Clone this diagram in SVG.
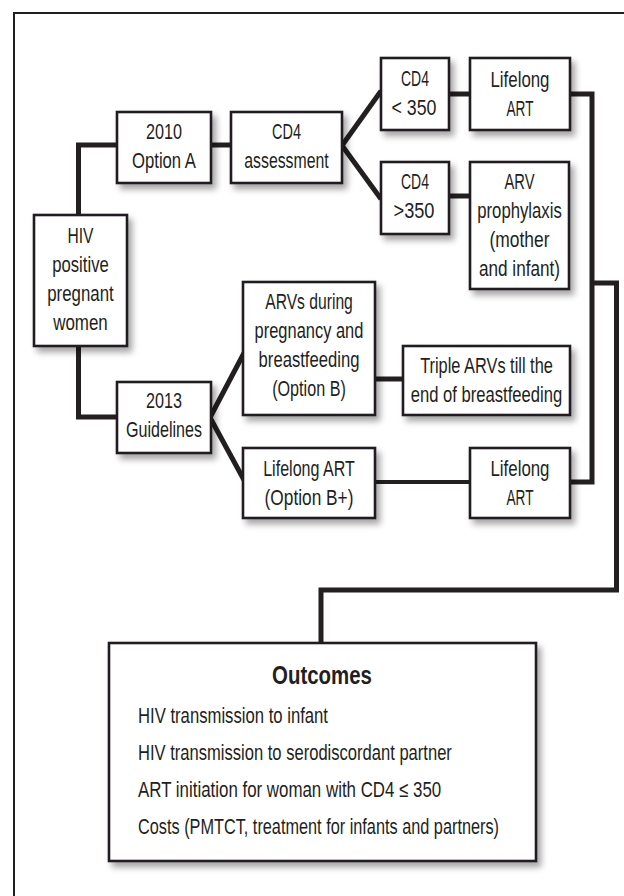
<svg xmlns="http://www.w3.org/2000/svg" width="624" height="896" viewBox="0 0 624 896">
<defs>
<filter id="sh" x="-20%" y="-20%" width="150%" height="150%">
<feDropShadow dx="4" dy="5" stdDeviation="3" flood-color="#000" flood-opacity="0.35"/>
</filter>
<style>
.box{fill:#fff;stroke:#231f20;stroke-width:2.6;filter:url(#sh)}
.t{font-family:"Liberation Sans Narrow","Liberation Sans",Arial,sans-serif;font-size:21.5px;fill:#231f20;text-anchor:middle}
.o{font-family:"Liberation Sans Narrow","Liberation Sans",Arial,sans-serif;font-size:22px;fill:#231f20}
.ob{font-family:"Liberation Sans Narrow","Liberation Sans",Arial,sans-serif;font-size:26px;font-weight:bold;fill:#231f20;text-anchor:middle}
.c{fill:none;stroke:#231f20;stroke-width:5;stroke-linejoin:miter;stroke-linecap:butt}
.c2{fill:none;stroke:#231f20;stroke-width:4.2}
</style>
</defs>
<rect width="624" height="896" fill="#fff"/>
<rect x="14" y="13" width="640" height="920" fill="none" stroke="#231f20" stroke-width="2"/>

<g id="connectors">
<path class="c" d="M78.5,216 V145 H118"/>
<path class="c" d="M78.5,345 V417 H118"/>
<path class="c" d="M210,145 H232"/>
<path class="c" d="M342,145.5 L381,91"/>
<path class="c" d="M342,145.5 L381,199"/>
<path class="c" d="M448,94 H471"/>
<path class="c" d="M448,196 H471"/>
<path class="c" d="M569,94 H592 V482 H569"/>
<path class="c" d="M592,283 H616.5 V590 H321 V644"/>
<path class="c" d="M210,417.5 L244,353"/>
<path class="c" d="M210,417.5 L244,480"/>
<path class="c" d="M374,379 H404"/>
<path class="c2" d="M374,482 H471"/>
</g>

<g id="hiv">
<rect class="box" x="34" y="215" width="93" height="131"/>
<text class="t" x="80.5" y="243" textLength="26" lengthAdjust="spacingAndGlyphs">HIV</text>
<text class="t" x="80.5" y="272" textLength="56.5" lengthAdjust="spacingAndGlyphs">positive</text>
<text class="t" x="80.5" y="301" textLength="66.5" lengthAdjust="spacingAndGlyphs">pregnant</text>
<text class="t" x="80.5" y="330" textLength="54.6" lengthAdjust="spacingAndGlyphs">women</text>
</g>

<g id="opt2010">
<rect class="box" x="117" y="112" width="94" height="71"/>
<text class="t" x="164" y="139" textLength="36" lengthAdjust="spacingAndGlyphs">2010</text>
<text class="t" x="164" y="168" textLength="64" lengthAdjust="spacingAndGlyphs">Option A</text>
</g>

<g id="cd4assess">
<rect class="box" x="231" y="112" width="111" height="71"/>
<text class="t" x="286.5" y="139" textLength="29" lengthAdjust="spacingAndGlyphs">CD4</text>
<text class="t" x="286.5" y="168" textLength="84.5" lengthAdjust="spacingAndGlyphs">assessment</text>
</g>

<g id="cd4lt">
<rect class="box" x="381" y="58" width="68" height="72"/>
<text class="t" x="415" y="86" textLength="28" lengthAdjust="spacingAndGlyphs">CD4</text>
<text class="t" x="414" y="115" textLength="45" lengthAdjust="spacingAndGlyphs">&lt; 350</text>
</g>

<g id="lifelong1">
<rect class="box" x="470" y="58" width="100" height="72"/>
<text class="t" x="520" y="87" textLength="59" lengthAdjust="spacingAndGlyphs">Lifelong</text>
<text class="t" x="520" y="116" textLength="27" lengthAdjust="spacingAndGlyphs">ART</text>
</g>

<g id="cd4gt">
<rect class="box" x="381" y="162" width="68" height="72"/>
<text class="t" x="415" y="189" textLength="28" lengthAdjust="spacingAndGlyphs">CD4</text>
<text class="t" x="414" y="218" textLength="41" lengthAdjust="spacingAndGlyphs">&gt;350</text>
</g>

<g id="arvproph">
<rect class="box" x="470" y="162" width="99" height="127"/>
<text class="t" x="519.5" y="189" textLength="30" lengthAdjust="spacingAndGlyphs">ARV</text>
<text class="t" x="519.5" y="218" textLength="84.5" lengthAdjust="spacingAndGlyphs">prophylaxis</text>
<text class="t" x="519.5" y="247" textLength="60" lengthAdjust="spacingAndGlyphs">(mother</text>
<text class="t" x="519.5" y="276" textLength="81" lengthAdjust="spacingAndGlyphs">and infant)</text>
</g>

<g id="g2013">
<rect class="box" x="117" y="382" width="94" height="71"/>
<text class="t" x="164" y="408" textLength="36" lengthAdjust="spacingAndGlyphs">2013</text>
<text class="t" x="164" y="437" textLength="76" lengthAdjust="spacingAndGlyphs">Guidelines</text>
</g>

<g id="optB">
<rect class="box" x="243" y="282" width="132" height="133"/>
<text class="t" x="309" y="309" textLength="87.6" lengthAdjust="spacingAndGlyphs">ARVs during</text>
<text class="t" x="309" y="338" textLength="108.8" lengthAdjust="spacingAndGlyphs">pregnancy and</text>
<text class="t" x="309" y="367" textLength="100.8" lengthAdjust="spacingAndGlyphs">breastfeeding</text>
<text class="t" x="309" y="396" textLength="73.7" lengthAdjust="spacingAndGlyphs">(Option B)</text>
</g>

<g id="triple">
<rect class="box" x="403" y="346" width="167" height="69"/>
<text class="t" x="486.5" y="373" textLength="132.7" lengthAdjust="spacingAndGlyphs">Triple ARVs till the</text>
<text class="t" x="486.5" y="402" textLength="151.4" lengthAdjust="spacingAndGlyphs">end of breastfeeding</text>
</g>

<g id="optBplus">
<rect class="box" x="243" y="448" width="132" height="70"/>
<text class="t" x="309" y="476" textLength="91.6" lengthAdjust="spacingAndGlyphs">Lifelong ART</text>
<text class="t" x="309" y="505" textLength="88.8" lengthAdjust="spacingAndGlyphs">(Option B+)</text>
</g>

<g id="lifelong2">
<rect class="box" x="470" y="448" width="100" height="70"/>
<text class="t" x="520" y="476" textLength="59" lengthAdjust="spacingAndGlyphs">Lifelong</text>
<text class="t" x="520" y="505" textLength="27" lengthAdjust="spacingAndGlyphs">ART</text>
</g>

<g id="outcomes">
<rect class="box" x="109" y="643" width="427" height="218"/>
<text class="ob" x="322" y="684" textLength="100" lengthAdjust="spacingAndGlyphs">Outcomes</text>
<g transform="translate(138,0) scale(0.76,1)">
<text class="o" x="0" y="723" textLength="250" lengthAdjust="spacingAndGlyphs">HIV transmission to infant</text>
<text class="o" x="0" y="760" textLength="413" lengthAdjust="spacingAndGlyphs">HIV transmission to serodiscordant partner</text>
<text class="o" x="0" y="797" textLength="399" lengthAdjust="spacingAndGlyphs">ART initiation for woman with CD4 ≤ 350</text>
<text class="o" x="0" y="834" textLength="475" lengthAdjust="spacingAndGlyphs">Costs (PMTCT, treatment for infants and partners)</text>
</g>
</g>
</svg>
